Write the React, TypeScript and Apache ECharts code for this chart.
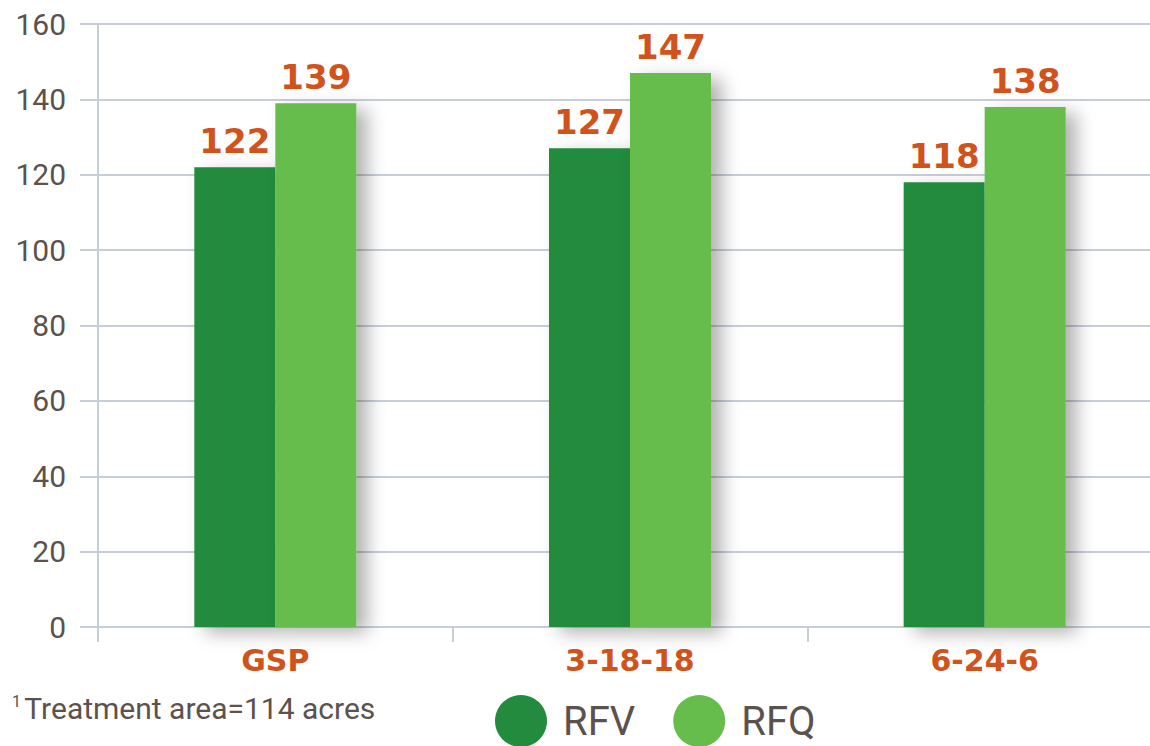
import React, { useEffect, useRef } from "react";
import * as echarts from "echarts";

const categories = ["GSP", "3-18-18", "6-24-6"];
const rfvValues = [122, 127, 118];
const rfqValues = [139, 147, 138];
const seriesNames = ["RFV", "RFQ"];
const yTicks = { min: 0, max: 160, interval: 20 };
const footnote = "Treatment area=114 acres";

const DARK = "#238b3d";
const LIGHT = "#66bd4b";
const ORANGE = "#d0531c";
const GRAY_TEXT = "#5b524e";
const LINE = "#c8ced6";

export default function App() {
  const ref = useRef<HTMLDivElement>(null);
  useEffect(() => {
    if (!ref.current) return;
    const chart = echarts.init(ref.current, undefined, { renderer: "svg" });
    const labelCfg = {
      show: true,
      position: "top" as const,
      distance: 9,
      color: ORANGE,
      fontFamily: "DejaVu Sans",
      fontWeight: "bold" as const,
      fontSize: 34,
    };
    const shadow = {
      shadowColor: "rgba(0,0,0,0.3)",
      shadowBlur: 18,
      shadowOffsetX: 11,
      shadowOffsetY: 6,
    };
    chart.setOption({
      animation: false,
      grid: { left: 98, right: 0, top: 24, bottom: 119, containLabel: false, outerBoundsMode: "none" },
      legend: {
        data: seriesNames,
        left: 495,
        top: 695,
        padding: 0,
        icon: "circle",
        itemWidth: 52,
        itemHeight: 52,
        itemGap: 38,
        textStyle: {
          color: GRAY_TEXT,
          fontFamily: "Roboto",
          fontSize: 40,
          padding: [0, 0, 0, 11],
        },
      },
      xAxis: {
        type: "category",
        data: categories,
        axisLine: { show: true, lineStyle: { color: LINE, width: 2 } },
        axisTick: { show: true, length: 15, lineStyle: { color: LINE, width: 2 } },
        axisLabel: {
          margin: 18,
          color: ORANGE,
          fontFamily: "DejaVu Sans",
          fontWeight: "bold",
          fontSize: 30,
        },
      },
      yAxis: {
        type: "value",
        min: yTicks.min,
        max: yTicks.max,
        interval: yTicks.interval,
        axisLine: { show: true, lineStyle: { color: LINE, width: 2 } },
        axisTick: { show: true, length: 18, lineStyle: { color: LINE, width: 2 } },
        splitLine: { show: true, lineStyle: { color: LINE, width: 2 } },
        axisLabel: {
          margin: 32,
          color: GRAY_TEXT,
          fontFamily: "Roboto",
          fontSize: 30,
        },
      },
      graphic: [
        {
          type: "text",
          left: 12,
          top: 693,
          style: {
            text: "{sup|1} {main|" + footnote + "}",
            rich: {
              sup: { fontSize: 16, fontFamily: "Roboto", fill: GRAY_TEXT, verticalAlign: "top", padding: [0, 0, 14, 0] },
              main: { fontSize: 30, fontFamily: "Roboto", fill: GRAY_TEXT },
            },
          },
        },
      ],
      series: [
        {
          name: seriesNames[0],
          type: "bar",
          data: rfvValues,
          barWidth: 81,
          barGap: "0%",
          itemStyle: { color: DARK, ...shadow },
          label: labelCfg,
        },
        {
          name: seriesNames[1],
          type: "bar",
          data: rfqValues,
          barWidth: 81,
          barGap: "0%",
          itemStyle: { color: LIGHT, ...shadow },
          label: labelCfg,
        },
      ],
    });
    return () => chart.dispose();
  }, []);
  return (
    <div style={{ width: 1150, height: 746, position: "absolute", left: 0, top: 0, overflow: "hidden" }}>
      <div ref={ref} style={{ width: 1162, height: 746, position: "absolute", left: 0, top: 0 }} />
    </div>
  );
}
